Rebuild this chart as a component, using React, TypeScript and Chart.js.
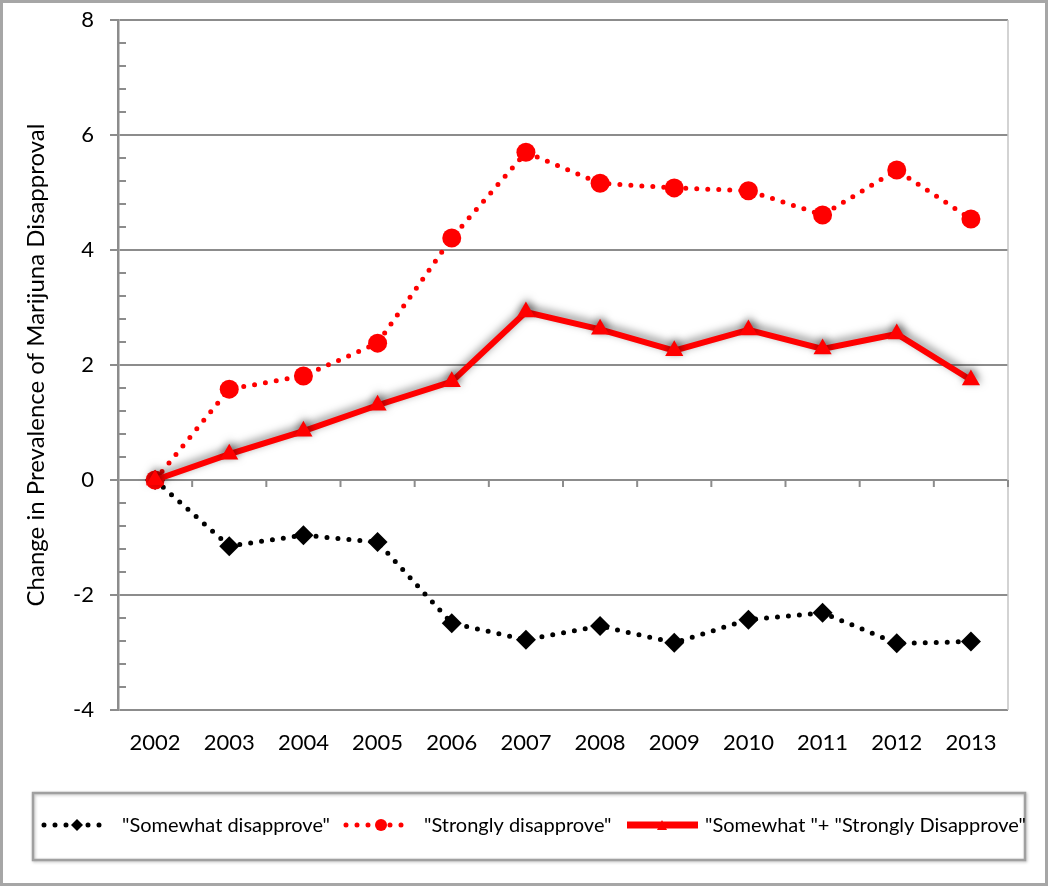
import React, { useEffect, useRef } from 'react';
import { Chart, registerables } from 'chart.js';

Chart.register(...registerables);

const years = ['2002', '2003', '2004', '2005', '2006', '2007', '2008', '2009', '2010', '2011', '2012', '2013'];
const somewhatDisapprove = [0, -1.15, -0.96, -1.08, -2.49, -2.78, -2.54, -2.83, -2.43, -2.31, -2.84, -2.81];
const stronglyDisapprove = [0, 1.58, 1.81, 2.38, 4.21, 5.7, 5.16, 5.08, 5.03, 4.61, 5.39, 4.54];
const combinedDisapprove = [0, 0.45, 0.85, 1.3, 1.71, 2.92, 2.62, 2.25, 2.61, 2.28, 2.54, 1.74];
const yMin = -4;
const yMax = 8;
const yStep = 2;
const yMinorStep = 0.4;
const seriesLabels = ['"Somewhat disapprove"', '"Strongly disapprove"', '"Somewhat "+ "Strongly Disapprove"'];
const yTitle = 'Change in Prevalence of Marijuna Disapproval';

const FONT = 'Lato';
const GRID = '#8c8c8c';
const RED = '#ff0000';

function drawDotted(ctx: CanvasRenderingContext2D, x1: number, x2: number, y: number, color: string) {
  ctx.save();
  ctx.strokeStyle = color;
  ctx.lineWidth = 5;
  ctx.lineCap = 'round';
  ctx.setLineDash([0, 11]);
  ctx.beginPath();
  ctx.moveTo(x1, y);
  ctx.lineTo(x2, y);
  ctx.stroke();
  ctx.restore();
}

const decorPlugin = {
  id: 'decor',
  beforeDatasetDraw(chart: any, args: any) {
    if (args.index === 2) {
      const ctx = chart.ctx;
      ctx.save();
      ctx.shadowColor = 'rgba(0,0,0,0.5)';
      ctx.shadowBlur = 8;
      ctx.shadowOffsetX = 1;
      ctx.shadowOffsetY = -3;
    }
  },
  afterDatasetDraw(chart: any, args: any) {
    if (args.index === 2) chart.ctx.restore();
  },
  beforeDatasetsDraw(chart: any) {
    const ctx = chart.ctx as CanvasRenderingContext2D;
    const { left, right, top, bottom } = chart.chartArea;
    const ys = chart.scales.y;
    const xs = chart.scales.x;
    ctx.save();
    ctx.strokeStyle = '#c4c4c4';
    ctx.lineWidth = 1.5;
    ctx.beginPath();
    ctx.moveTo(right, top);
    ctx.lineTo(right, bottom);
    ctx.stroke();
    ctx.strokeStyle = GRID;
    ctx.lineWidth = 2;
    const n = Math.round((yMax - yMin) / yMinorStep);
    for (let k = 0; k <= n; k++) {
      if (k % 5 === 0) continue;
      const v = yMin + k * yMinorStep;
      const y = Math.round(ys.getPixelForValue(v));
      ctx.beginPath();
      ctx.moveTo(left, y);
      ctx.lineTo(left + 8, y);
      ctx.stroke();
    }
    const y0 = ys.getPixelForValue(0);
    for (let i = 1; i <= years.length; i++) {
      const x = i < years.length
        ? (xs.getPixelForValue(i - 1) + xs.getPixelForValue(i)) / 2
        : right;
      ctx.beginPath();
      ctx.moveTo(x, y0);
      ctx.lineTo(x, y0 + 7);
      ctx.stroke();
    }
    ctx.restore();
  },
  afterDraw(chart: any) {
    const ctx = chart.ctx as CanvasRenderingContext2D;
    ctx.save();
    ctx.strokeStyle = '#a6a6a6';
    ctx.lineWidth = 3;
    ctx.strokeRect(1.5, 1.5, 1045, 883);
    ctx.save();
    ctx.shadowColor = 'rgba(0,0,0,0.25)';
    ctx.shadowBlur = 3;
    ctx.shadowOffsetX = 1;
    ctx.shadowOffsetY = 1;
    ctx.strokeStyle = '#a0a0a0';
    ctx.lineWidth = 2.5;
    ctx.strokeRect(33, 793, 992, 67);
    ctx.restore();

    const ly = 825;
    drawDotted(ctx, 44, 110, ly, '#000');
    ctx.fillStyle = '#000';
    ctx.beginPath();
    ctx.moveTo(77, ly - 6);
    ctx.lineTo(83, ly);
    ctx.lineTo(77, ly + 6);
    ctx.lineTo(71, ly);
    ctx.closePath();
    ctx.fill();
    drawDotted(ctx, 346, 412, ly, RED);
    ctx.fillStyle = RED;
    ctx.beginPath();
    ctx.arc(381, ly, 6, 0, Math.PI * 2);
    ctx.fill();
    ctx.strokeStyle = RED;
    ctx.lineWidth = 7;
    ctx.lineCap = 'butt';
    ctx.beginPath();
    ctx.moveTo(627, ly);
    ctx.lineTo(698, ly);
    ctx.stroke();
    ctx.beginPath();
    ctx.moveTo(662, ly - 5);
    ctx.lineTo(667, ly + 5);
    ctx.lineTo(657, ly + 5);
    ctx.closePath();
    ctx.fill();

    ctx.fillStyle = '#000';
    ctx.font = `20px ${FONT}`;
    ctx.textBaseline = 'middle';
    ctx.textAlign = 'left';
    ctx.fillText(seriesLabels[0], 122, ly + 1);
    ctx.fillText(seriesLabels[1], 424, ly + 1);
    ctx.fillText(seriesLabels[2], 705, ly + 1);
    ctx.restore();
  },
};

export default function App() {
  const ref = useRef<HTMLCanvasElement | null>(null);
  useEffect(() => {
    if (!ref.current) return;
    const chart = new Chart(ref.current, {
      type: 'line',
      data: {
        labels: years,
        datasets: [
          {
            label: seriesLabels[0],
            data: somewhatDisapprove,
            borderColor: '#000',
            backgroundColor: '#000',
            borderWidth: 5,
            borderDash: [0, 11],
            borderCapStyle: 'round',
            pointStyle: 'rectRot',
            pointRadius: 10,
            pointBorderWidth: 0,
            tension: 0,
            order: 2,
          },
          {
            label: seriesLabels[1],
            data: stronglyDisapprove,
            borderColor: RED,
            backgroundColor: RED,
            borderWidth: 5,
            borderDash: [0, 11],
            borderCapStyle: 'round',
            pointStyle: 'circle',
            pointRadius: 9.5,
            pointBorderWidth: 0,
            tension: 0,
            order: 1,
          },
          {
            label: seriesLabels[2],
            data: combinedDisapprove,
            borderColor: RED,
            backgroundColor: RED,
            borderWidth: 6,
            pointStyle: 'triangle',
            pointRadius: 10.5,
            pointBorderWidth: 0,
            tension: 0,
            order: 0,
          },
        ],
      },
      options: {
        responsive: false,
        animation: false,
        clip: false,
        layout: { padding: { top: 20, right: 42, left: 0, bottom: 0 } },
        plugins: {
          legend: { display: false },
          tooltip: { enabled: false },
        },
        scales: {
          x: {
            type: 'category',
            offset: true,
            grid: { display: false, drawTicks: false },
            border: { display: false },
            ticks: { font: { family: FONT, size: 22 }, color: '#000', padding: 20, maxRotation: 0 },
            afterFit: (scale: any) => { scale.height = 176; scale.paddingLeft = 0; scale.paddingRight = 0; },
          },
          y: {
            min: yMin,
            max: yMax,
            ticks: { stepSize: yStep, font: { family: FONT, size: 22 }, color: '#000', padding: 16 },
            grid: {
              color: GRID,
              lineWidth: 2,
              tickLength: 8,
              tickColor: GRID,
              tickWidth: 2,
            },
            border: { color: GRID, width: 2.5 },
            title: {
              display: true,
              text: yTitle,
              font: { family: FONT, size: 24 },
              color: '#000',
              padding: { top: 22, bottom: 0 },
            },
            afterFit: (scale: any) => { scale.width = 118; scale.paddingTop = 0; scale.paddingBottom = 0; },
          },
        },
      },
      plugins: [decorPlugin],
    } as any);
    return () => chart.destroy();
  }, []);
  return (
    <div style={{ position: 'absolute', left: 0, top: 0, width: 1050, height: 886, background: '#fff' }}>
      <canvas ref={ref} width={1050} height={886} style={{ display: 'block' }} />
    </div>
  );
}
